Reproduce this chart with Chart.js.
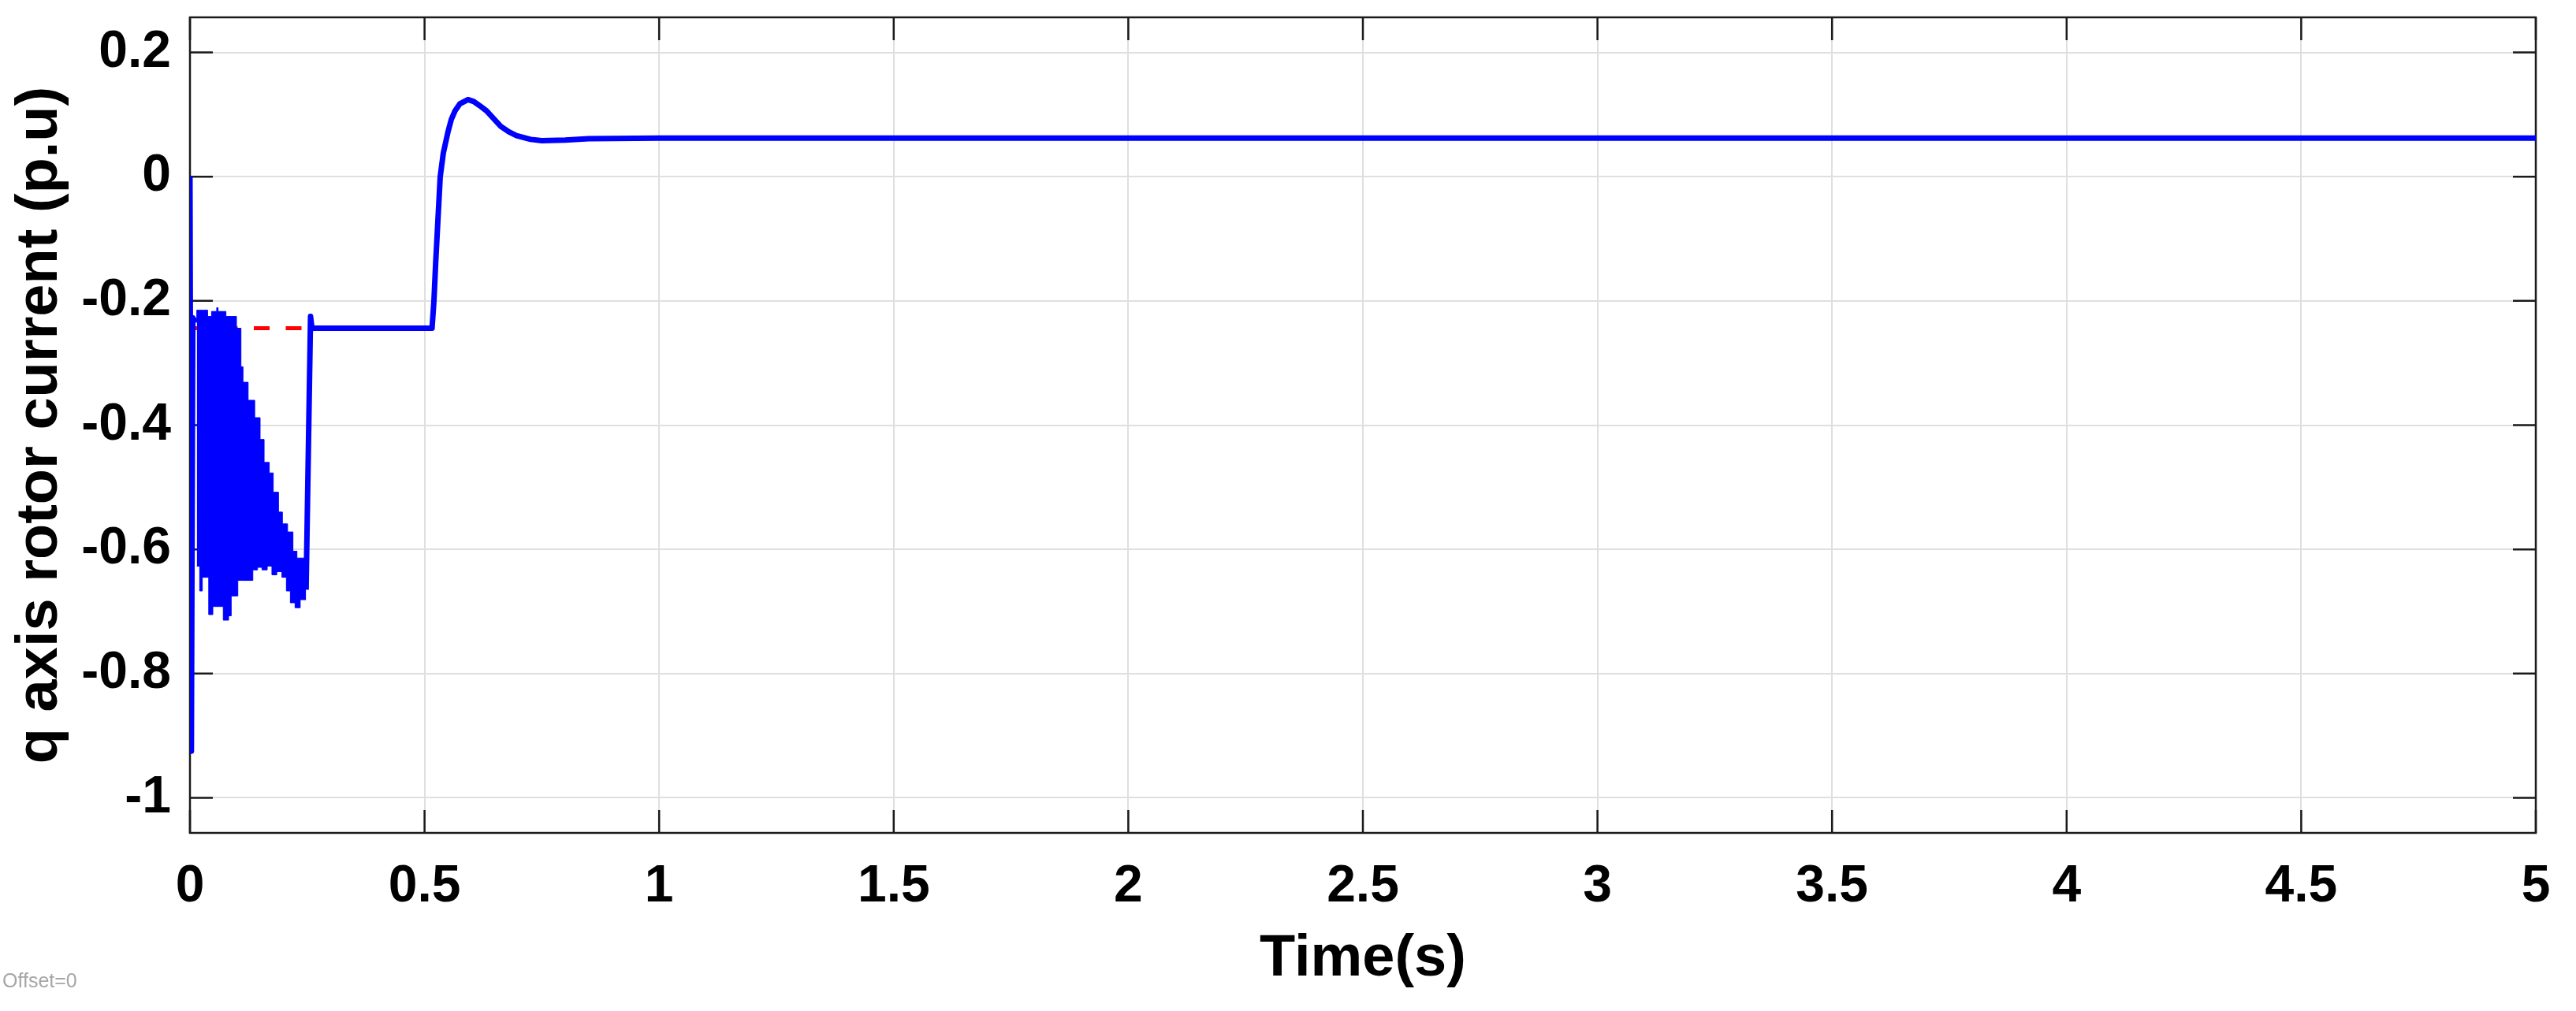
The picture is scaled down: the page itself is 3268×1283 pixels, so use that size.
<!DOCTYPE html>
<html>
<head>
<meta charset="utf-8">
<script src="https://cdn.jsdelivr.net/npm/chart.js@4.4.1/dist/chart.umd.min.js"></script>
<style>
  html, body { margin: 0; padding: 0; background: #ffffff; }
  #wrap { position: relative; width: 3268px; height: 1283px; }
</style>
</head>
<body>
<div id="wrap"><canvas id="c"></canvas></div>
<script>
// ---- data ----
// main q-axis rotor current trace (null = the dense oscillation band drawn below)
const timeS = [
  0.000, 0.003, 0.006, 0.012, 0.100,
  0.2475, 0.257, 0.260, 0.516, 0.520, 0.5237, 0.5285, 0.5334, 0.540, 0.5499, 0.557,
  0.565, 0.575, 0.5926, 0.605, 0.618, 0.632, 0.6625, 0.680, 0.696, 0.726,
  0.750, 0.800, 0.850, 1.000, 2.000, 3.000, 4.000, 5.000
];
const qCurrent = [
  0.000, -0.925, -0.227, -0.235, null,
  -0.665, -0.225, -0.244, -0.244, -0.200, -0.139, -0.070, 0.000, 0.038, 0.072, 0.092,
  0.106, 0.117, 0.124, 0.121, 0.114, 0.106, 0.081, 0.072, 0.066, 0.060,
  0.058, 0.059, 0.061, 0.062, 0.062, 0.062, 0.062, 0.062
];
// dense oscillation band 0.015 s .. 0.2475 s: upper and lower envelope (step values)
const oscTime = [
  0.0145, 0.0207, 0.0263, 0.0376, 0.0400, 0.0460, 0.0487, 0.0570, 0.0599, 0.0710,
  0.0767, 0.0823, 0.0879, 0.0991, 0.1020, 0.1087, 0.1130, 0.1240, 0.1340, 0.1380,
  0.1440, 0.1495, 0.1535, 0.1580, 0.1647, 0.1690, 0.1747, 0.1775, 0.1850, 0.1887,
  0.1960, 0.1970, 0.2055, 0.2080, 0.2140, 0.2195, 0.2240, 0.2280, 0.2350, 0.2390,
  0.2475
];
const oscUpper = [
  -0.235, -0.215, -0.215, -0.215, -0.225, -0.225, -0.217, -0.217, -0.211, -0.217,
  -0.217, -0.225, -0.225, -0.225, -0.244, -0.244, -0.306, -0.331, -0.360, -0.360,
  -0.388, -0.388, -0.423, -0.423, -0.460, -0.460, -0.477, -0.477, -0.508, -0.508,
  -0.540, -0.540, -0.559, -0.559, -0.572, -0.572, -0.603, -0.603, -0.614, -0.614,
  -0.614
];
const oscLower = [
  -0.627, -0.627, -0.667, -0.645, -0.645, -0.705, -0.705, -0.692, -0.692, -0.692,
  -0.714, -0.714, -0.707, -0.675, -0.675, -0.650, -0.650, -0.650, -0.650, -0.633,
  -0.633, -0.629, -0.629, -0.633, -0.633, -0.627, -0.627, -0.641, -0.641, -0.636,
  -0.636, -0.645, -0.645, -0.667, -0.667, -0.686, -0.686, -0.694, -0.694, -0.681,
  -0.681
];
// red dashed reference
const refTime = [0.000, 0.250];
const refValue = [-0.244, -0.244];

const xTickValues = [0, 0.5, 1, 1.5, 2, 2.5, 3, 3.5, 4, 4.5, 5];
const xTickLabels = ['0', '0.5', '1', '1.5', '2', '2.5', '3', '3.5', '4', '4.5', '5'];
const yTickValues = [-1, -0.8, -0.6, -0.4, -0.2, 0, 0.2];
const yTickLabels = ['-1', '-0.8', '-0.6', '-0.4', '-0.2', '0', '0.2'];

const xTitle = 'Time(s)';
const yTitle = 'q axis rotor current (p.u)';
const offsetNote = 'Offset=0';

// ---- chart ----
const FONT = "'Liberation Sans', Arial, Helvetica, sans-serif";
Chart.defaults.font.family = FONT;
const TICK = 29;
const BLUE = 'rgb(0,0,255)';

const matlabAxes = {
  id: 'matlabAxes',
  beforeDatasetsDraw(chart) {
    const { ctx, chartArea: a, scales: { x, y } } = chart;
    ctx.save();
    ctx.strokeStyle = '#1a1a1a';
    ctx.lineWidth = 2.5;
    ctx.beginPath();
    xTickValues.forEach(v => {
      const px = x.getPixelForValue(v);
      ctx.moveTo(px, a.bottom); ctx.lineTo(px, a.bottom - TICK);
      ctx.moveTo(px, a.top); ctx.lineTo(px, a.top + TICK);
    });
    yTickValues.forEach(v => {
      const py = y.getPixelForValue(v);
      ctx.moveTo(a.left, py); ctx.lineTo(a.left + TICK, py);
      ctx.moveTo(a.right, py); ctx.lineTo(a.right - TICK, py);
    });
    ctx.stroke();
    ctx.strokeRect(a.left, a.top, a.right - a.left, a.bottom - a.top);
    ctx.restore();
  },
  afterDraw(chart) {
    const ctx = chart.ctx;
    ctx.save();
    ctx.fillStyle = '#a6a6a6';
    ctx.font = '25px ' + FONT;
    ctx.textBaseline = 'alphabetic';
    ctx.fillText(offsetNote, 3, 1253);
    ctx.restore();
  }
};

new Chart(document.getElementById('c'), {
  type: 'line',
  data: {
    datasets: [
      {
        label: 'iqr',
        order: 0,
        data: timeS.map((t, i) => ({ x: t, y: qCurrent[i] })),
        borderColor: BLUE,
        borderWidth: 7,
        borderJoinStyle: 'round',
        pointRadius: 0,
        tension: 0,
        spanGaps: false,
        fill: false
      },
      {
        label: 'iqr band upper',
        order: 1,
        data: oscTime.map((t, i) => ({ x: t, y: oscUpper[i] })),
        borderColor: BLUE,
        backgroundColor: BLUE,
        borderWidth: 1,
        stepped: 'after',
        pointRadius: 0,
        fill: '+1'
      },
      {
        label: 'iqr band lower',
        order: 2,
        data: oscTime.map((t, i) => ({ x: t, y: oscLower[i] })),
        borderColor: BLUE,
        borderWidth: 1,
        stepped: 'after',
        pointRadius: 0,
        fill: false
      },
      {
        label: 'iqr ref',
        order: 3,
        data: refTime.map((t, i) => ({ x: t, y: refValue[i] })),
        borderColor: 'rgb(255,0,0)',
        borderWidth: 5,
        borderDash: [20, 20.5],
        pointRadius: 0,
        tension: 0,
        fill: false
      }
    ]
  },
  options: {
    responsive: true,
    maintainAspectRatio: false,
    devicePixelRatio: 1,
    animation: false,
    events: [],
    layout: { padding: { top: 22, right: 51, left: 0, bottom: 0 } },
    plugins: { legend: { display: false }, tooltip: { enabled: false } },
    scales: {
      x: {
        type: 'linear',
        min: 0,
        max: 5,
        afterBuildTicks: s => { s.ticks = xTickValues.map(v => ({ value: v })); },
        afterFit: s => { s.height = 226; s.paddingLeft = 0; s.paddingRight = 0; },
        grid: { color: 'rgb(223,223,223)', lineWidth: 2, drawTicks: false },
        border: { display: false },
        ticks: {
          autoSkip: false,
          maxRotation: 0,
          padding: 29,
          color: '#000000',
          font: { size: 66, weight: 'bold' },
          callback: (v, i) => xTickLabels[i]
        },
        title: {
          display: true,
          text: xTitle,
          color: '#000000',
          font: { size: 74, weight: 'bold' },
          padding: { top: 0, bottom: 21 }
        }
      },
      y: {
        type: 'linear',
        min: -1.0565,
        max: 0.2565,
        afterBuildTicks: s => { s.ticks = yTickValues.map(v => ({ value: v })); },
        afterFit: s => { s.width = 241; s.paddingTop = 0; s.paddingBottom = 0; },
        grid: { color: 'rgb(223,223,223)', lineWidth: 2, drawTicks: false },
        border: { display: false },
        ticks: {
          autoSkip: false,
          padding: 24,
          color: '#000000',
          font: { size: 66, weight: 'bold' },
          callback: (v, i) => yTickLabels[i]
        },
        title: {
          display: true,
          text: yTitle,
          color: '#000000',
          font: { size: 74, weight: 'bold' },
          padding: { top: 7, bottom: 0 }
        }
      }
    }
  },
  plugins: [matlabAxes]
});
</script>
</body>
</html>
